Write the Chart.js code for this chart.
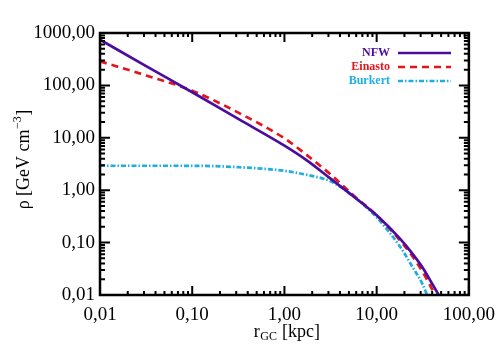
<!DOCTYPE html>
<html>
<head>
<meta charset="utf-8">
<script src="https://cdn.jsdelivr.net/npm/chart.js@4/dist/chart.umd.min.js"></script>
<style>
  html, body { margin: 0; padding: 0; background: #ffffff; }
  #wrap { width: 504px; height: 360px; position: relative; }
</style>
</head>
<body>
<div id="wrap"><canvas id="c" width="504" height="360"></canvas></div>
<script>
// ---- data ----
const seriesNames = ['NFW', 'Einasto', 'Burkert'];

const nfwR     = [0.01, 0.0316, 0.1, 0.316, 1, 1.78, 3.16, 5.62, 10, 17.8, 24.4, 31.6, 39.8, 47, 52.5];
const nfwRho   = [745, 234, 74.1, 22.9, 7.08, 3.63, 1.66, 0.759, 0.331, 0.120, 0.0617, 0.0331, 0.0166, 0.01, 0.0068];

const einR     = [0.01, 0.0316, 0.1, 0.316, 1, 1.78, 3.16, 5.62, 10, 17.8, 24.4, 31.6, 43.2, 50];
const einRho   = [288, 155, 79.4, 30.2, 9.77, 4.57, 2.0, 0.794, 0.331, 0.112, 0.055, 0.0275, 0.01, 0.0063];

const burR     = [0.01, 0.0316, 0.1, 0.316, 1, 1.78, 3.16, 5.62, 10, 17.8, 24.4, 31.6, 35.2, 40];
const burRho   = [2.93, 2.93, 2.92, 2.75, 2.34, 1.95, 1.48, 0.759, 0.302, 0.0851, 0.0347, 0.0158, 0.01, 0.0056];

const xTicks = [0.01, 0.1, 1, 10, 100];
const yTicks = [0.01, 0.1, 1, 10, 100, 1000];

const xTitleMain = 'r', xTitleSub = 'GC', xTitleRest = ' [kpc]';
const yTitleMain = 'ρ [GeV cm', yTitleSup = '−3', yTitleEnd = ']';

// ---- helpers ----
const SERIF = "'Liberation Serif', 'Times New Roman', 'DejaVu Serif', serif";
function pts(rs, vs) { return rs.map((r, i) => ({ x: r, y: vs[i] })); }
function fmt(v) { return Number(v).toFixed(2).replace('.', ','); }
function minorValues(ticks) {
  const out = [];
  for (let i = 0; i < ticks.length - 1; i++) {
    for (let k = 2; k <= 9; k++) out.push(ticks[i] * k);
  }
  return out;
}

const framePlugin = {
  id: 'frame',
  afterDatasetsDraw(chart) {
    const { ctx, chartArea: a, scales } = chart;
    ctx.save();
    ctx.strokeStyle = '#000';
    ctx.lineWidth = 2;
    const xs = scales.x, ys = scales.y;
    const drawX = (v, len) => {
      const p = xs.getPixelForValue(v);
      ctx.beginPath();
      ctx.moveTo(p, a.bottom); ctx.lineTo(p, a.bottom - len);
      ctx.moveTo(p, a.top); ctx.lineTo(p, a.top + len);
      ctx.stroke();
    };
    const drawY = (v, len) => {
      const p = ys.getPixelForValue(v);
      ctx.beginPath();
      ctx.moveTo(a.left, p); ctx.lineTo(a.left + len, p);
      ctx.moveTo(a.right, p); ctx.lineTo(a.right - len, p);
      ctx.stroke();
    };
    xTicks.forEach(v => drawX(v, 9));
    minorValues(xTicks).forEach(v => drawX(v, 4));
    yTicks.forEach(v => drawY(v, 10));
    minorValues(yTicks).forEach(v => drawY(v, 5));
    ctx.lineWidth = 2.5;
    ctx.strokeRect(a.left, a.top, a.right - a.left, a.bottom - a.top);
    ctx.restore();
  }
};

const titlesPlugin = {
  id: 'titles',
  afterDraw(chart) {
    const { ctx, chartArea: a } = chart;
    ctx.save();
    ctx.fillStyle = '#000';
    ctx.textBaseline = 'alphabetic';
    const big = '18px ' + SERIF, small = '12px ' + SERIF;
    ctx.font = big; const w1 = ctx.measureText(xTitleMain).width;
    ctx.font = small; const w2 = ctx.measureText(xTitleSub).width;
    ctx.font = big; const w3 = ctx.measureText(xTitleRest).width;
    const cx = (a.left + a.right) / 2 + 2;
    let x0 = cx - (w1 + w2 + w3) / 2;
    const by = 337;
    ctx.textAlign = 'left';
    ctx.font = big; ctx.fillText(xTitleMain, x0, by);
    ctx.font = small; ctx.fillText(xTitleSub, x0 + w1 + 0.5, by + 3);
    ctx.font = big; ctx.fillText(xTitleRest, x0 + w1 + w2 + 1, by);
    ctx.save();
    ctx.translate(29, 160);
    ctx.rotate(-Math.PI / 2);
    ctx.font = big; const v1 = ctx.measureText(yTitleMain).width;
    ctx.font = small; const v2 = ctx.measureText(yTitleSup).width;
    ctx.font = big; const v3 = ctx.measureText(yTitleEnd).width;
    let y0 = -(v1 + v2 + v3) / 2;
    ctx.font = big; ctx.fillText(yTitleMain, y0, 0);
    ctx.font = small; ctx.fillText(yTitleSup, y0 + v1 + 0.5, -8);
    ctx.font = big; ctx.fillText(yTitleEnd, y0 + v1 + v2 + 1, 0);
    ctx.restore();
    const ds = chart.data.datasets;
    ctx.font = 'bold 12px ' + SERIF;
    ctx.textAlign = 'right';
    ctx.textBaseline = 'middle';
    const rows = [53, 67, 81];
    ds.forEach((d, i) => {
      const y = rows[i];
      ctx.fillStyle = d.borderColor;
      ctx.fillText(d.label, 390, y);
      ctx.strokeStyle = d.borderColor;
      ctx.lineWidth = d.borderWidth;
      ctx.setLineDash(d.borderDash || []);
      ctx.beginPath();
      ctx.moveTo(398, y); ctx.lineTo(451, y);
      ctx.stroke();
    });
    ctx.restore();
  }
};

const labelFont = { family: SERIF, size: 19 };

new Chart(document.getElementById('c'), {
  type: 'line',
  data: {
    datasets: [
      { label: seriesNames[0], data: pts(nfwR, nfwRho), borderColor: '#4B0CA0', borderWidth: 2.7,
        pointRadius: 0, cubicInterpolationMode: 'monotone', fill: false },
      { label: seriesNames[1], data: pts(einR, einRho), borderColor: '#E3141C', borderWidth: 2.7,
        borderDash: [7, 5], pointRadius: 0, cubicInterpolationMode: 'monotone', fill: false },
      { label: seriesNames[2], data: pts(burR, burRho), borderColor: '#1FAEE4', borderWidth: 2.7,
        borderDash: [5, 2, 1.5, 2], pointRadius: 0, cubicInterpolationMode: 'monotone', fill: false }
    ]
  },
  options: {
    responsive: false,
    animation: false,
    devicePixelRatio: 1,
    layout: { padding: { left: 0, right: 30, top: 33, bottom: 0 } },
    plugins: { legend: { display: false }, tooltip: { enabled: false } },
    scales: {
      x: {
        type: 'logarithmic', min: 0.01, max: 100,
        afterBuildTicks: s => { s.ticks = xTicks.map(v => ({ value: v, major: true })); },
        afterFit: s => { s.height = 65; },
        grid: { display: false, drawTicks: false },
        border: { display: false },
        ticks: { callback: v => fmt(v), font: labelFont, color: '#000', padding: 9, maxRotation: 0, autoSkip: false }
      },
      y: {
        type: 'logarithmic', min: 0.01, max: 1000,
        afterBuildTicks: s => { s.ticks = yTicks.map(v => ({ value: v, major: true })); },
        afterFit: s => { s.width = 100; },
        grid: { display: false, drawTicks: false },
        border: { display: false },
        ticks: { callback: v => fmt(v), font: labelFont, color: '#000', padding: 5, autoSkip: false }
      }
    }
  },
  plugins: [framePlugin, titlesPlugin]
});
</script>
</body>
</html>
